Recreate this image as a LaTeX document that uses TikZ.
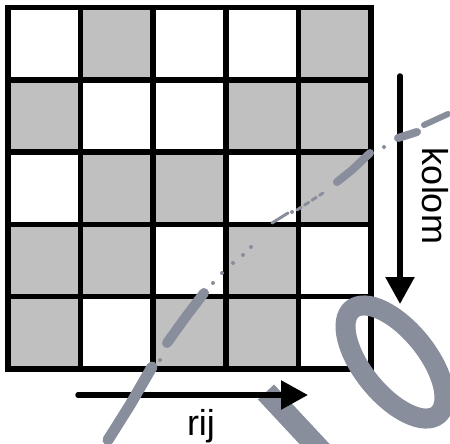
\documentclass[tikz,border=0pt]{standalone}
\usepackage{fontspec}
\setmainfont{Liberation Sans}
\usetikzlibrary{arrows.meta}
\definecolor{cellgray}{RGB}{192,192,192}
\definecolor{smudge}{RGB}{137,142,156}
\tikzset{
  gridline/.style={line width=5.5pt, line cap=rect},
  dirarrow/.style={line width=5.5pt, line cap=round, -{Triangle[length=27pt,width=28pt]}},
  label/.style={font=\fontsize{36}{40}\selectfont, inner sep=0pt},
  scribble/.style={draw=smudge, line cap=round, line join=round},
}
\begin{document}
\begin{tikzpicture}[x=1pt, y=-1pt]
	\useasboundingbox (0,0) rectangle (450,444);
	% gray cells (column/row)
	\foreach \c/\r in {2/1,5/1,1/2,4/2,5/2,2/3,3/3,5/3,1/4,2/4,4/4,1/5,3/5,4/5}
		\fill[cellgray] ({8+(\c-1)*72.6}, {7.5+(\r-1)*72.3}) rectangle +(72.6,72.3);
	\foreach \i in {0,...,5} {
		\draw[gridline] ({8+\i*72.6}, 7.5) -- ({8+\i*72.6}, 369);
		\draw[gridline] (8, {7.5+\i*72.3}) -- (371, {7.5+\i*72.3});
	}
	% smudge under the arrow
	\draw[draw=smudge, line width=22pt] (266,392) -- (322,452);
	% arrows
	\coordinate (rijA) at (78,395);
	\coordinate (rijB) at (308,395);
	\coordinate (kolA) at (400,76);
	\coordinate (kolB) at (400,304);
	\draw[dirarrow] (rijA) -- (rijB);
	\draw[dirarrow] (kolA) -- (kolB);
	\node[label, anchor=base] (rij) at (201,435) {rij};
	\node[label, anchor=base, rotate=-90] (kolom) at (422,196) {kolom};
	% smudges
	\draw[scribble, line width=20pt, rotate around={-51:(395,362)}] (395,362) ellipse [x radius=68, y radius=32];
	\draw[scribble, line width=11pt] (108,440) -- (130,405) -- (152,367);
	\draw[scribble, line width=10pt] (167,343) -- (185,318) -- (204,293);
	\foreach \p in {(160,360),(213,283),(222,273),(233,263),(243,255),(251,247),(292,212),(384,147)}
		\fill[smudge] \p circle (2);
	\draw[scribble, line width=3pt] (272,223) -- (288,213);
	\draw[scribble, line width=3pt, dash pattern=on 5pt off 4pt] (297,210) -- (323,193);
	\draw[scribble, line width=8pt] (337,182) -- (352,170) -- (370,153);
	\draw[scribble, line width=8pt] (398,138) -- (417,132);
	\draw[scribble, line width=6pt] (424,125) -- (448,114);
\end{tikzpicture}
\end{document}
